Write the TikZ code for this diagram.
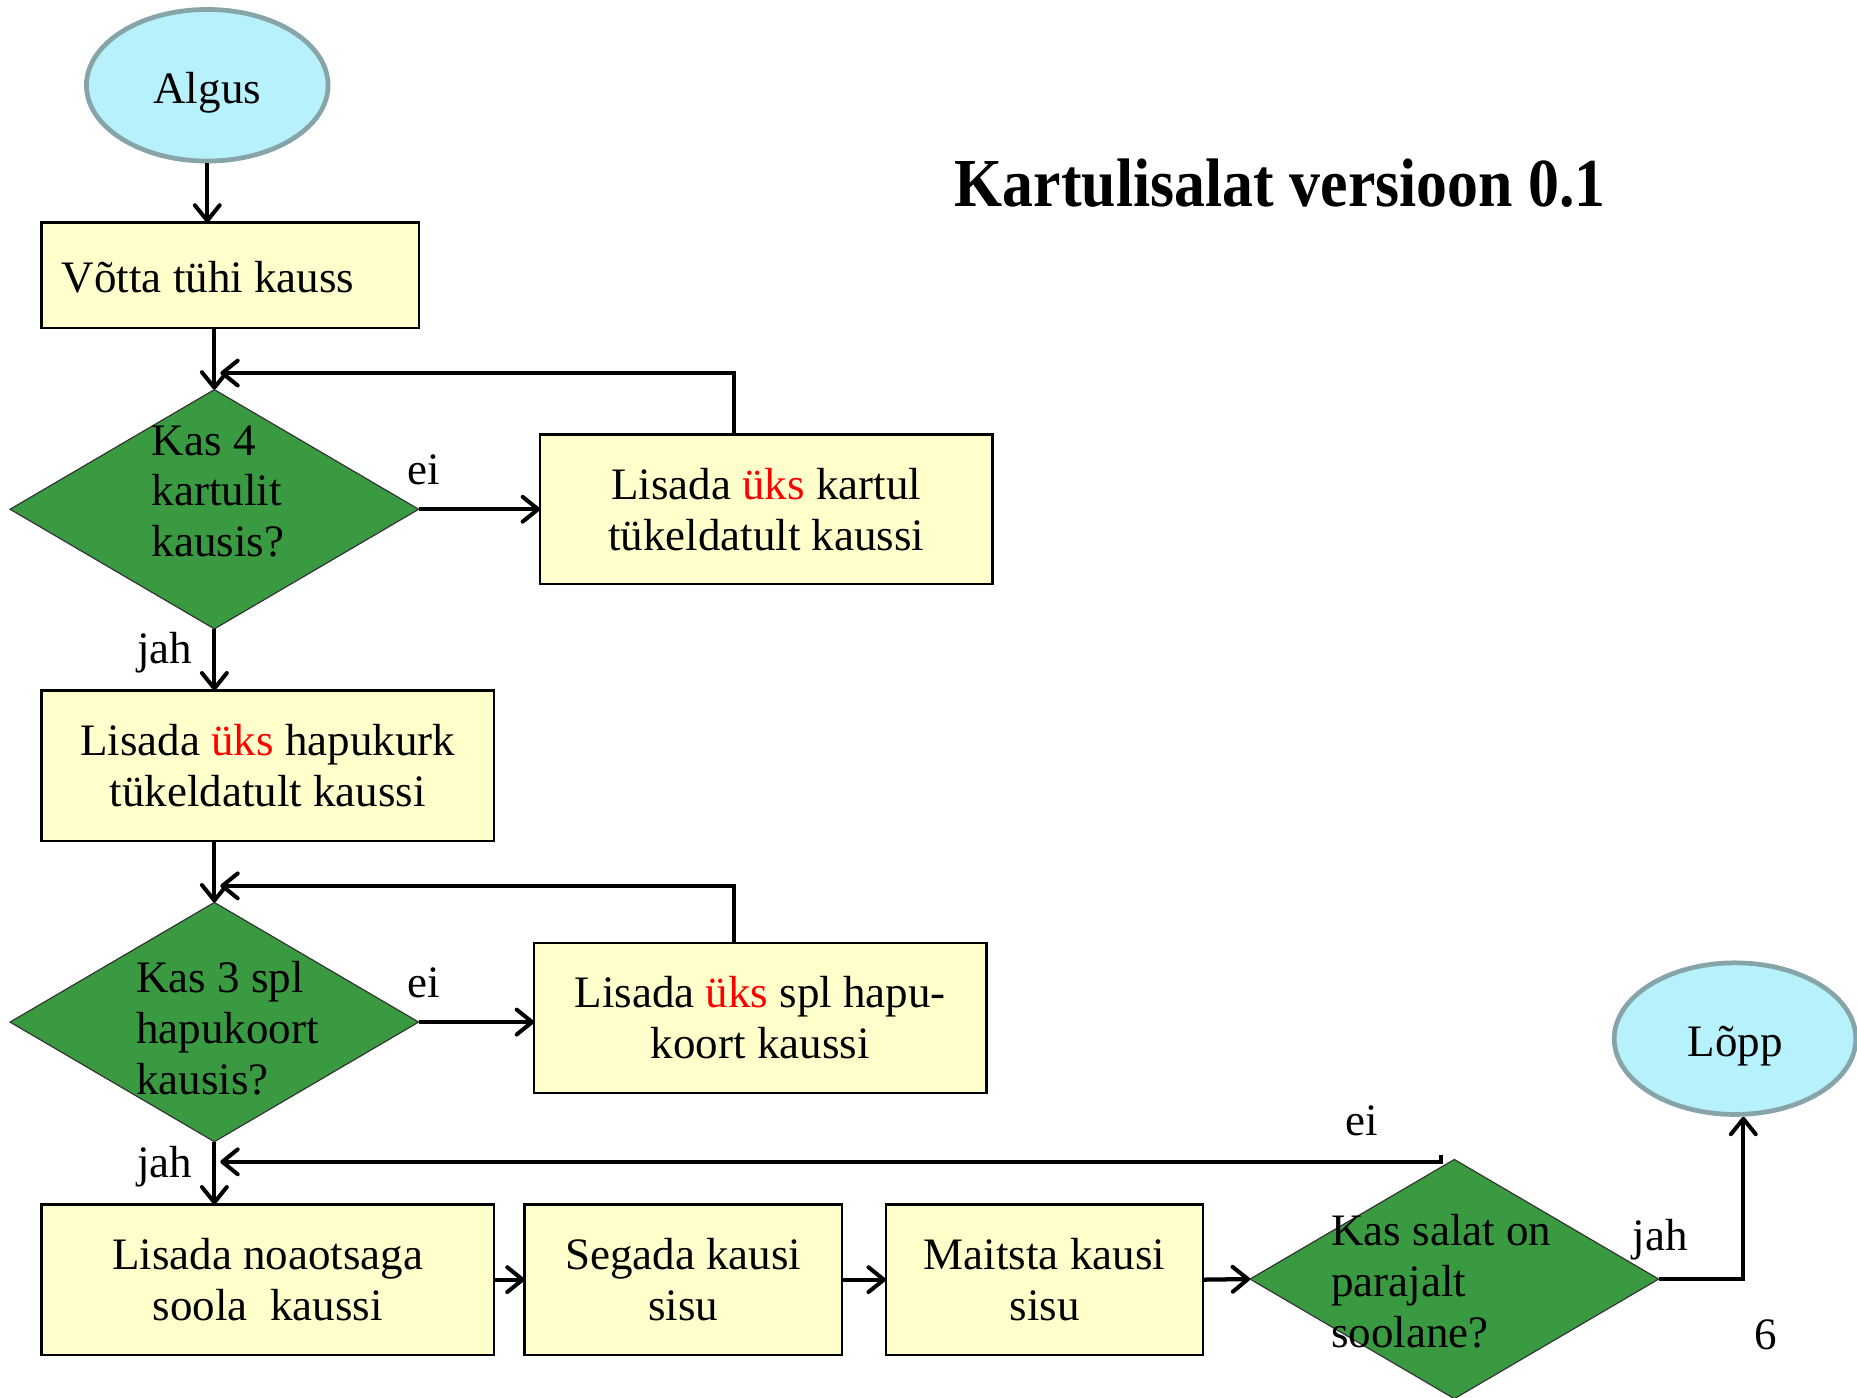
\documentclass[tikz,border=0pt]{standalone}
\usepackage{fontspec}
\setmainfont{Liberation Serif}
\newfontfamily\titlefont[FakeStretch=0.9]{Liberation Serif}
\usetikzlibrary{shapes.geometric,arrows.meta}
\definecolor{boxfill}{HTML}{FFFFCC}
\definecolor{decfill}{HTML}{3A9A41}
\definecolor{termfill}{HTML}{B7F1FC}
\definecolor{termline}{HTML}{87A4A8}
\definecolor{accent}{HTML}{FF0000}
\newcommand{\hl}[1]{\textcolor{accent}{#1}}
\newcommand{\termtext}[1]{\raisebox{-15pt}[0pt][0pt]{#1}}

\begin{document}
\begin{tikzpicture}[x=1pt,y=-1pt,
  txt/.style={font=\fontsize{38}{43}\selectfont},
  stepbox/.style={draw=black, line width=2pt, fill=boxfill, rectangle,
    inner sep=0pt, outer sep=0pt, align=center, txt},
  decision/.style={diamond, draw=black!80, line width=1pt, fill=decfill,
    inner sep=0pt, outer sep=0pt, minimum width=345pt, minimum height=202pt},
  terminal/.style={ellipse, draw=termline, line width=4pt, fill=termfill,
    minimum width=204pt, minimum height=128pt, inner sep=0pt, txt},
  dtext/.style={txt, align=left, anchor=west, inner sep=0pt},
  lbl/.style={txt, inner sep=0pt},
  flow/.style={line width=3.6pt,
    -{Straight Barb[length=13pt,width=21pt,line width=3.4pt,round]}},
]
\clip (0,0) rectangle (1568,1180);

% title and page number
\node[font=\fontsize{58}{62}\titlefont\bfseries] (title) at (1081,155) {Kartulisalat versioon 0.1};
\node[lbl] (page) at (1491,1127) {6};

% terminals
\node[terminal] (algus) at (175,72) {\termtext{Algus}};
\node[terminal] (lopp) at (1465,877) {\termtext{Lõpp}};

% process boxes
\node[stepbox, minimum width=319pt, minimum height=89pt] (b1) at (194.5,232.5) {};
\node[dtext] (b1t) at (52,234) {Võtta tühi kauss};
\node[stepbox, minimum width=382pt, minimum height=126pt] (b2) at (647,430)
  {Lisada \hl{üks} kartul\\tükeldatult kaussi};
\node[stepbox, minimum width=382pt, minimum height=127pt] (b3) at (226,646.5)
  {Lisada \hl{üks} hapukurk\\tükeldatult kaussi};
\node[stepbox, minimum width=382pt, minimum height=127pt] (b4) at (642,859.5)
  {Lisada \hl{üks} spl hapu-\\koort kaussi};
\node[stepbox, minimum width=382pt, minimum height=127pt] (b5) at (226,1080.5)
  {Lisada noaotsaga\\soola~~kaussi};
\node[stepbox, minimum width=268pt, minimum height=127pt] (b6) at (577,1080.5)
  {Segada kausi\\sisu};
\node[stepbox, minimum width=268pt, minimum height=127pt] (b7) at (882,1080.5)
  {Maitsta kausi\\sisu};

% decisions
\node[decision] (d1) at (181,430) {};
\node[dtext] (d1t) at (128,415) {Kas 4\\kartulit\\kausis?};
\node[decision] (d2) at (181,863) {};
\node[dtext] (d2t) at (115,868) {Kas 3 spl\\hapukoort\\kausis?};
\node[decision] (d3) at (1228,1080) {};
\node[dtext] (d3t) at (1124,1082) {Kas salat on\\parajalt\\soolane?};

% branch labels
\node[lbl] (ei1) at (358,397) {ei};
\node[lbl] (ei2) at (358,830) {ei};
\node[lbl] (ei3) at (1150,946) {ei};
\node[lbl] (jah1) at (139,551) {jah};
\node[lbl] (jah2) at (139,985) {jah};
\node[lbl] (jah3) at (1402,1047) {jah};

% loop junctions
\coordinate (j1) at (181,315);
\coordinate (j2) at (181,748);
\coordinate (j3) at (181,981);
\coordinate (t3) at (1217,975);

% connectors
\draw[flow] (algus.south) -- (algus.south |- b1.north);
\draw[flow] (d1.north |- b1.south) -- (d1.north);
\draw[flow] (d1.east) -- (b2.west);
\draw[flow, shorten >=5pt] ([xshift=-27pt]b2.north) |- (j1);
\draw[flow] (d1.south) -- (d1.south |- b3.north);
\draw[flow] (d2.north |- b3.south) -- (d2.north);
\draw[flow] (d2.east) -- (d2.east -| b4.west);
\draw[flow, shorten >=5pt] ([xshift=-22pt]b4.north) |- (j2);
\draw[flow] (d2.south) -- (d2.south |- b5.north);
\draw[flow, shorten >=5pt] (t3) |- (j3);
\draw[flow] (b5.east) -- (b6.west);
\draw[flow] (b6.east) -- (b7.west);
\draw[flow] (b7.east) -- (d3.west);
\draw[flow] (d3.east) -| ([xshift=7pt]lopp.south);
\end{tikzpicture}
\end{document}
